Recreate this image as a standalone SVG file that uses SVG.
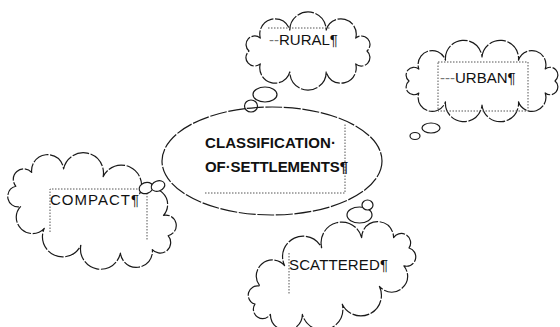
<svg xmlns="http://www.w3.org/2000/svg" width="560" height="327" viewBox="0 0 560 327">
<style>
.sh{fill:#fff;stroke:#1a1a1a;stroke-width:1.2;stroke-dasharray:17 1.6;stroke-linejoin:round}
.bub{fill:#fff;stroke:#1a1a1a;stroke-width:1.2}
.dot{fill:none;stroke:#555;stroke-width:1;stroke-dasharray:1.5 1.5}
.t{font-family:"Liberation Sans",Arial,sans-serif;font-size:15px;fill:#111}
.b{font-weight:bold}
.tab{fill:#777}
</style>
<rect width="560" height="327" fill="#fff"/>
<g id="center">
<ellipse class="sh" cx="272" cy="161" rx="110" ry="54"/>
<path class="dot" d="M205,193 H345 V123"/>
<text class="t b" x="205" y="148" textLength="131">CLASSIFICATION·</text>
<text class="t b" x="205" y="172" textLength="143">OF·SETTLEMENTS¶</text>
</g>
<g id="rural">
<path class="sh" d="M367,51 A1,1 0 0 1 355.7,63.9 A1,1 0 0 1 326.2,71.9 A1,1 0 0 1 289.8,71.9 A1,1 0 0 1 260.3,63.9 A1,1 0 0 1 249,51 A1,1 0 0 1 260.3,38.1 A1,1 0 0 1 289.8,30.1 A1,1 0 0 1 326.2,30.1 A1,1 0 0 1 355.7,38.1 A1,1 0 0 1 367,51 Z"/>
<path class="dot" d="M268,28 H331"/>
<text class="t" x="269" y="45"><tspan class="tab">--</tspan>RURAL¶</text>
</g>
<g id="urban">
<path class="sh" d="M555,81 A1,1 0 0 1 545.2,93 A1,1 0 0 1 518.5,101.8 A1,1 0 0 1 482,105 A1,1 0 0 1 445.5,101.8 A1,1 0 0 1 418.8,93 A1,1 0 0 1 409,81 A1,1 0 0 1 418.8,69 A1,1 0 0 1 445.5,60.2 A1,1 0 0 1 482,57 A1,1 0 0 1 518.5,60.2 A1,1 0 0 1 545.2,69 A1,1 0 0 1 555,81 Z"/>
<rect class="dot" x="438" y="62" width="90" height="49"/>
<text class="t" x="440" y="83"><tspan class="tab">---</tspan>URBAN¶</text>
</g>
<g id="compact">
<path class="sh" transform="translate(92,211) rotate(18)" d="M80,0 A1,1 0 0 1 69.3,18 A1,1 0 0 1 40,31.2 A1,1 0 0 1 0,36 A1,1 0 0 1 -40,31.2 A1,1 0 0 1 -69.3,18 A1,1 0 0 1 -80,0 A1,1 0 0 1 -69.3,-18 A1,1 0 0 1 -40,-31.2 A1,1 0 0 1 0,-36 A1,1 0 0 1 40,-31.2 A1,1 0 0 1 69.3,-18 A1,1 0 0 1 80,0 Z"/>
<path class="dot" d="M50,232 V189 H147 V240"/>
<text class="t" x="50" y="205" textLength="89">COMPACT¶</text>
</g>
<g id="scattered">
<path class="sh" transform="translate(332,276) rotate(-20)" d="M82,0 A1,1 0 0 1 71,15 A1,1 0 0 1 41,26 A1,1 0 0 1 0,30 A1,1 0 0 1 -41,26 A1,1 0 0 1 -71,15 A1,1 0 0 1 -82,0 A1,1 0 0 1 -71,-15 A1,1 0 0 1 -41,-26 A1,1 0 0 1 0,-30 A1,1 0 0 1 41,-26 A1,1 0 0 1 71,-15 A1,1 0 0 1 82,0 Z"/>
<path class="dot" d="M289,253 V295"/>
<text class="t" x="289" y="270" textLength="99">SCATTERED¶</text>
</g>
<g id="connectors">
<ellipse class="bub" cx="265" cy="94.5" rx="12" ry="7.5"/>
<ellipse class="bub" cx="251" cy="106" rx="6.5" ry="6" style="fill:none"/>
<ellipse class="bub" cx="431" cy="128" rx="9" ry="5"/>
<ellipse class="bub" cx="415" cy="136" rx="5" ry="3.5"/>
<ellipse class="bub" cx="146" cy="188" rx="7" ry="5.5" transform="rotate(-20 146 188)"/>
<ellipse class="bub" cx="158" cy="186" rx="7" ry="5" transform="rotate(-20 158 186)"/>
<ellipse class="bub" cx="359.5" cy="215" rx="12.5" ry="8"/>
<ellipse class="bub" cx="367.5" cy="205" rx="5.5" ry="5"/>
</g>
</svg>
